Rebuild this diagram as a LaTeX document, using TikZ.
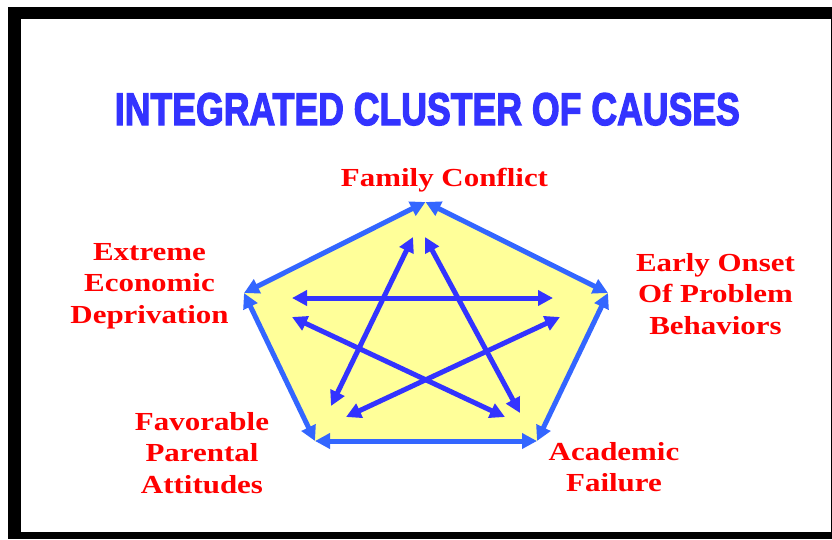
\documentclass[tikz,border=0pt]{standalone}
\usepackage{fontspec}
\usepackage{graphicx}
\usetikzlibrary{arrows.meta}
\newfontfamily\titlefont[FakeBold=3]{Liberation Sans Bold}
\newfontfamily\labfont[FakeStretch=1.19]{Liberation Serif Bold}
\definecolor{titleblue}{RGB}{51,51,255}
\definecolor{edgeblue}{RGB}{51,102,255}
\definecolor{starblue}{RGB}{51,51,255}
\definecolor{padyellow}{RGB}{255,255,153}
\definecolor{labred}{RGB}{255,0,0}
\tikzset{
  edgearrow/.style={draw=edgeblue, line width=5pt,
    {Triangle[length=15pt,width=15pt]}-{Triangle[length=15pt,width=15pt]}},
  stararrow/.style={draw=starblue, line width=5pt,
    {Triangle[length=15pt,width=15pt]}-{Triangle[length=15pt,width=15pt]}},
  causelabel/.style={text=labred, font=\labfont\fontsize{26}{31.7}\selectfont,
    align=center, anchor=north, inner sep=0pt, outer sep=0pt},
}
\newcommand{\firstline}{\rule{0pt}{20pt}}
\begin{document}
\begin{tikzpicture}[x=1pt,y=-1pt]
\useasboundingbox (0,0) rectangle (832,539);
% frame
\fill[black] (8,7) rectangle (832,539);
\fill[white] (21,19) rectangle (830.5,532);
% title
\node[anchor=base west, inner sep=0pt, text=titleblue] (title) at (114.7,125)
  {\resizebox{625pt}{32pt}{\titlefont INTEGRATED CLUSTER OF CAUSES}};
% vertices
\coordinate (T) at (425.5,202);
\coordinate (L) at (244,293);
\coordinate (R) at (608,293);
\coordinate (BL) at (315,441);
\coordinate (BR) at (537,441);
\fill[padyellow] (T) -- (R) -- (BR) -- (BL) -- (L) -- cycle;
\draw[edgearrow] (L) -- (T);
\draw[edgearrow] (T) -- (R);
\draw[edgearrow] (R) -- (BR);
\draw[edgearrow] (BR) -- (BL);
\draw[edgearrow] (BL) -- (L);
% star arrow ends
\coordinate (s1a) at (292,298);
\coordinate (s1b) at (553,298);
\coordinate (s2a) at (413,237);
\coordinate (s2b) at (331,406);
\coordinate (s3a) at (425,237);
\coordinate (s3b) at (520,413);
\coordinate (s4a) at (292,317);
\coordinate (s4b) at (505,417);
\coordinate (s5a) at (560,317);
\coordinate (s5b) at (346,417);
\draw[stararrow] (s1a) -- (s1b);
\draw[stararrow] (s2a) -- (s2b);
\draw[stararrow] (s3a) -- (s3b);
\draw[stararrow] (s4a) -- (s4b);
\draw[stararrow] (s5a) -- (s5b);
% labels
\node[causelabel] (fam) at (444.5,166) {\firstline Family Conflict};
\node[causelabel] (eco) at (149.5,240) {\firstline Extreme\\Economic\\Deprivation};
\node[causelabel] (early) at (715.5,251) {\firstline Early Onset\\Of Problem\\Behaviors};
\node[causelabel] (fav) at (202,410) {\firstline Favorable\\Parental\\Attitudes};
\node[causelabel] (acad) at (614,440) {\firstline Academic\\Failure};
\end{tikzpicture}
\end{document}
